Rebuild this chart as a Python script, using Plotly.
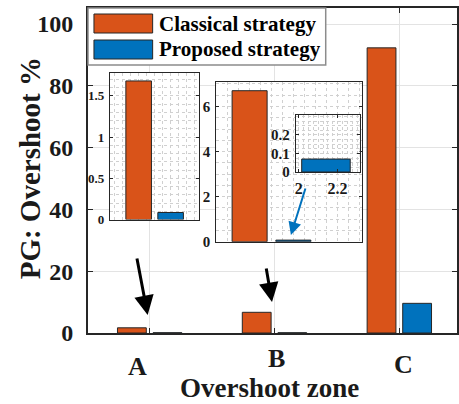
import plotly.graph_objects as go

# Overshoot of the PG per zone, for both strategies (%)
zones = ["A", "B", "C"]
classical = [1.68, 6.7, 92.3]
proposed = [0.085, 0.07, 9.6]
y_ticks = [0, 20, 40, 60, 80, 100]
legend_names = ["Classical strategy", "Proposed strategy"]

# close-up of zone B, proposed strategy
zoom_b_x = [2.14]
zoom_b_ticks_x = [2, 2.2]
zoom_b_ticks_y = [0, 0.1, 0.2]

ORANGE = "#D95319"
BLUE = "#0072BD"
EDGE = "#262626"
GRID = "#e3e3e3"
DOT = "#d0d0d0"
FONT = "Liberation Serif"

W, H = 459, 404
L, R, T, B = 88, 0, 8, 71
PW, PH = W - L - R, H - T - B


def px(x):
    return (x - L) / PW


def py(y):
    return (H - B - y) / PH


def bold(size, color="#1a1a1a"):
    return dict(family=FONT, size=size, color=color, weight="bold")


fig = go.Figure()

# main grouped bars
fig.add_trace(go.Bar(x=zones, y=classical, name=legend_names[0],
                     marker=dict(color=ORANGE, line=dict(color=EDGE, width=1))))
fig.add_trace(go.Bar(x=zones, y=proposed, name=legend_names[1],
                     marker=dict(color=BLUE, line=dict(color=EDGE, width=1))))

# inset: zone A
fig.add_trace(go.Bar(x=[1, 2], y=[classical[0], proposed[0]], width=0.8,
                     marker=dict(color=[ORANGE, BLUE], line=dict(color=EDGE, width=1)),
                     xaxis="x2", yaxis="y2", showlegend=False))
# inset: zone B
fig.add_trace(go.Bar(x=[1, 2], y=[classical[1], proposed[1]], width=0.8,
                     marker=dict(color=[ORANGE, BLUE], line=dict(color=EDGE, width=1)),
                     xaxis="x3", yaxis="y3", showlegend=False))
# nested inset: zone B, proposed strategy only
fig.add_trace(go.Bar(x=zoom_b_x, y=[proposed[1]], width=0.25,
                     marker=dict(color=BLUE, line=dict(color=EDGE, width=1)),
                     xaxis="x4", yaxis="y4", showlegend=False))

main_axis = dict(showline=True, linecolor=EDGE, linewidth=1.8, mirror="allticks",
                 ticks="inside", ticklen=5, tickcolor=EDGE, tickwidth=1,
                 showgrid=True, gridcolor=GRID, gridwidth=1, zeroline=False)

inset_axis = dict(showline=True, linecolor=EDGE, linewidth=1, mirror="allticks",
                  ticks="inside", ticklen=3, tickcolor=EDGE, tickwidth=1,
                  showgrid=True, gridcolor=DOT, griddash="dot", gridwidth=1,
                  zeroline=False)

fig.update_layout(
    width=W, height=H,
    margin=dict(l=L, r=R, t=T, b=B),
    paper_bgcolor="white", plot_bgcolor="white",
    barmode="group", bargap=0.43, bargroupgap=0.19,
    showlegend=False,
    xaxis=dict(main_axis, type="category", range=[-0.494, 2.462],
               showticklabels=False),
    yaxis=dict(main_axis, range=[0, 105.2], tickvals=y_ticks,
               tickfont=bold(24), ticklabelstandoff=8),
    xaxis2=dict(inset_axis, domain=[px(110), px(200)], anchor="y2",
                range=[0.1, 2.9], dtick=0.25, ticks="", showticklabels=False),
    yaxis2=dict(inset_axis, domain=[py(219.5), py(72.7)], anchor="x2",
                range=[0, 1.78], tickvals=[0, 0.5, 1, 1.5],
                ticktext=["0", "0.5", "1", "1.5"], tickfont=bold(13),
                ticklabelstandoff=2,
                minor=dict(dtick=0.1, showgrid=True, gridcolor=DOT, griddash="dot")),
    xaxis3=dict(inset_axis, domain=[px(217), px(363)], anchor="y3",
                range=[0.239, 3.557], dtick=0.25, ticks="", showticklabels=False),
    yaxis3=dict(inset_axis, domain=[py(241.7), py(81.7)], anchor="x3",
                range=[0, 7.1], tickvals=[0, 2, 4, 6], tickfont=bold(15),
                ticklabelstandoff=2,
                minor=dict(dtick=0.5, showgrid=True, gridcolor=DOT, griddash="dot")),
    xaxis4=dict(inset_axis, domain=[px(297), px(361)], anchor="y4",
                range=[1.985, 2.313], tickvals=zoom_b_ticks_x,
                ticktext=["2", "2.2"], tickfont=bold(16), ticklabelstandoff=2,
                minor=dict(dtick=0.025, showgrid=True, gridcolor=DOT, griddash="dot")),
    yaxis4=dict(inset_axis, domain=[py(172), py(115)], anchor="x4",
                range=[0, 0.308], tickvals=zoom_b_ticks_y,
                ticktext=["0", "0.1", "0.2"], tickfont=bold(15),
                ticklabelstandoff=2,
                minor=dict(dtick=0.025, showgrid=True, gridcolor=DOT, griddash="dot")),
)

annotations = []

# zone labels under the bars
for zone, shift, y in zip(zones, [-12, 2, 4], [366, 358, 364]):
    annotations.append(dict(x=zone, xref="x", xshift=shift, y=py(y), yref="paper",
                            text=zone, showarrow=False, font=bold(26), borderpad=0,
                            xanchor="center", yanchor="middle"))

# axis titles
annotations.append(dict(x=px(270), y=py(404), xref="paper", yref="paper",
                        text="Overshoot zone", showarrow=False, font=bold(27),
                        borderpad=0, xanchor="center", yanchor="bottom"))
annotations.append(dict(x=px(30), y=py(168), xref="paper", yref="paper",
                        text="PG: Overshoot %", showarrow=False, font=bold(29),
                        textangle=-90, xanchor="center", yanchor="middle"))

# arrows pointing at the small bars
for tail, tip, color, w in [((137, 257), (148, 315), "black", 3),
                            ((267, 267), (273, 302), "black", 3),
                            ((307, 187), (292, 235), BLUE, 2)]:
    annotations.append(dict(x=px(tip[0]), y=py(tip[1]), xref="paper", yref="paper",
                            ax=tail[0] - tip[0], ay=tail[1] - tip[1],
                            text="", showarrow=True, arrowhead=2, arrowsize=1.3,
                            arrowwidth=w, arrowcolor=color))

# legend text
for name, y in zip(legend_names, [23.5, 49.5]):
    annotations.append(dict(x=px(157), y=py(y), xref="paper", yref="paper",
                            text=name, showarrow=False, font=bold(21, "black"),
                            xanchor="left", yanchor="middle"))

shapes = [
    dict(type="rect", xref="paper", yref="paper", x0=px(88), x1=px(327),
         y0=py(65), y1=py(8), fillcolor="white", line=dict(color="#8c8c8c", width=1.5),
         layer="above"),
    dict(type="rect", xref="paper", yref="paper", x0=px(94), x1=px(153),
         y0=py(33), y1=py(14), fillcolor=ORANGE, line=dict(color=EDGE, width=1),
         layer="above"),
    dict(type="rect", xref="paper", yref="paper", x0=px(94), x1=px(153),
         y0=py(59), y1=py(40), fillcolor=BLUE, line=dict(color=EDGE, width=1),
         layer="above"),
]

fig.update_layout(annotations=annotations, shapes=shapes)
fig.write_html("out.html")
